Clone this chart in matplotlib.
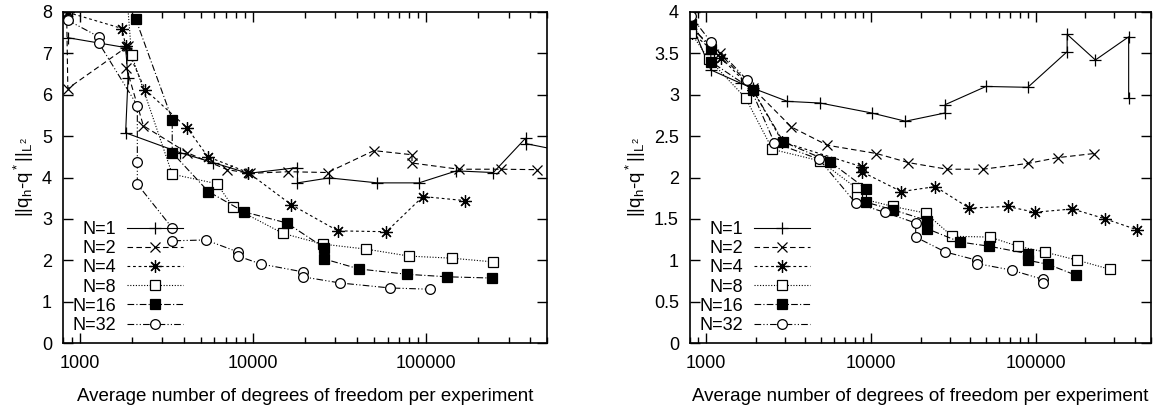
import matplotlib.pyplot as plt
import matplotlib.ticker as ticker

plt.rcParams['font.family'] = ['Liberation Sans', 'DejaVu Sans']
plt.rcParams['mathtext.default'] = 'regular'

labels = ['N=1', 'N=2', 'N=4', 'N=8', 'N=16', 'N=32']

# left panel
l_x1 = [850, 1840, 1900, 1840, 3800, 5900, 9400, 18100, 18100, 27600, 52400, 91000, 150000, 245000, 376000, 376000, 600000]
l_y1 = [7.38, 7.14, 6.4, 5.08, 4.6, 4.36, 4.1, 4.24, 3.87, 3.99, 3.87, 3.87, 4.16, 4.12, 4.95, 4.82, 4.65]
l_x2 = [840, 853, 1890, 1860, 2330, 4170, 7100, 9600, 16000, 27000, 50000, 83000, 83000, 155000, 270000, 435000]
l_y2 = [7.95, 6.15, 7.17, 6.65, 5.25, 4.6, 4.19, 4.1, 4.14, 4.12, 4.65, 4.55, 4.35, 4.2, 4.2, 4.19]
l_x4 = [853, 1760, 1840, 2390, 4170, 5500, 9400, 16700, 31000, 59000, 96000, 169000]
l_y4 = [7.99, 7.6, 7.17, 6.12, 5.2, 4.5, 4.12, 3.34, 2.71, 2.69, 3.54, 3.44]
l_x8 = [1880, 1990, 3420, 6200, 7700, 14900, 25300, 45000, 80000, 141000, 245000]
l_y8 = [8.3, 6.97, 4.08, 3.85, 3.28, 2.65, 2.39, 2.27, 2.1, 2.05, 1.96]
l_x16 = [2100, 3420, 3420, 5530, 8900, 15700, 25900, 25900, 41000, 78000, 133000, 240000]
l_y16 = [7.84, 5.4, 4.6, 3.66, 3.17, 2.9, 2.3, 2.03, 1.79, 1.66, 1.6, 1.57]
l_x32 = [853, 1290, 1290, 2150, 2150, 2150, 3420, 3420, 5350, 8200, 8200, 11100, 19400, 19400, 32000, 62000, 105000]
l_y32 = [7.8, 7.4, 7.25, 5.74, 4.38, 3.84, 2.78, 2.47, 2.49, 2.2, 2.1, 1.91, 1.72, 1.6, 1.45, 1.33, 1.3]

# right panel
r_x1 = [820, 1070, 1620, 1920, 3120, 4930, 10100, 16200, 28200, 28200, 49900, 89500, 155000, 155000, 230000, 366000, 366000]
r_y1 = [3.85, 3.3, 3.14, 3.08, 2.92, 2.9, 2.78, 2.68, 2.78, 2.88, 3.1, 3.09, 3.52, 3.73, 3.42, 3.7, 2.96]
r_x2 = [820, 1210, 1920, 3300, 5440, 10800, 16900, 29000, 47800, 89500, 136000, 226000]
r_y2 = [3.8, 3.5, 3.08, 2.61, 2.39, 2.29, 2.18, 2.1, 2.1, 2.17, 2.24, 2.29]
r_x4 = [820, 1230, 1920, 2910, 8800, 8800, 15300, 24600, 39500, 67600, 98500, 167000, 264000, 409000]
r_y4 = [3.75, 3.45, 3.06, 2.43, 2.13, 2.07, 1.83, 1.89, 1.63, 1.65, 1.58, 1.62, 1.5, 1.37]
r_x8 = [810, 1040, 1740, 2530, 4930, 8200, 8200, 13600, 21500, 31100, 52600, 78000, 113000, 179000, 283000]
r_y8 = [3.75, 3.43, 2.96, 2.34, 2.2, 1.87, 1.76, 1.65, 1.57, 1.29, 1.28, 1.17, 1.1, 1.0, 0.89]
r_x16 = [810, 1070, 1070, 1920, 2950, 5650, 9400, 9400, 13600, 22000, 22000, 34800, 52000, 89500, 89500, 119000, 175000]
r_y16 = [3.85, 3.55, 3.4, 3.06, 2.43, 2.19, 1.86, 1.7, 1.61, 1.48, 1.38, 1.22, 1.17, 1.08, 1.0, 0.95, 0.82]
r_x32 = [810, 1070, 1770, 2600, 4860, 8100, 12100, 18700, 18700, 28300, 44000, 44000, 71700, 110000, 110000]
r_y32 = [3.95, 3.64, 3.18, 2.42, 2.22, 1.69, 1.58, 1.45, 1.28, 1.1, 1.0, 0.96, 0.88, 0.77, 0.72]

styles = [
    dict(ls='-', marker='+', ms=9, mfc='black'),
    dict(ls=(0, (5, 3)), marker='x', ms=7, mfc='black'),
    dict(ls=(0, (2.5, 2.5)), marker=(8, 2, 0), ms=9, mfc='black'),
    dict(ls=(0, (1, 1.5)), marker='s', ms=7, mfc='white'),
    dict(ls=(0, (6, 2, 1, 2)), marker='s', ms=7, mfc='black'),
    dict(ls=(0, (6, 2, 1, 2, 1, 2)), marker='o', ms=7, mfc='white'),
]

fig = plt.figure(figsize=(11.55, 4.07), dpi=100)
ax1 = fig.add_axes([63 / 1155, 64 / 407, 484 / 1155, 331 / 407])
ax2 = fig.add_axes([690 / 1155, 64 / 407, 461 / 1155, 331 / 407])

left = [(l_x1, l_y1), (l_x2, l_y2), (l_x4, l_y4), (l_x8, l_y8), (l_x16, l_y16), (l_x32, l_y32)]
right = [(r_x1, r_y1), (r_x2, r_y2), (r_x4, r_y4), (r_x8, r_y8), (r_x16, r_y16), (r_x32, r_y32)]

for ax, data, ymax, ystep in [(ax1, left, 8, 1), (ax2, right, 4, 0.5)]:
    for (xs, ys), lab, st in zip(data, labels, styles):
        ax.plot(xs, ys, color='black', lw=0.8, mec='black', mew=0.9, label=lab, **st)
    ax.set_xscale('log')
    ax.set_xlim(800, 500000)
    ax.set_ylim(0, ymax)
    ax.yaxis.set_major_locator(ticker.MultipleLocator(ystep))
    ax.yaxis.set_major_formatter(ticker.FuncFormatter(lambda v, p: '%g' % v))
    ax.xaxis.set_major_locator(ticker.LogLocator(base=10))
    ax.xaxis.set_minor_locator(ticker.LogLocator(base=10, subs=range(2, 10)))
    ax.xaxis.set_major_formatter(ticker.FuncFormatter(lambda v, p: '%d' % v))
    ax.xaxis.set_minor_formatter(ticker.NullFormatter())
    ax.tick_params(which='both', direction='in', top=True, right=True, labelsize=13)
    ax.tick_params(axis='x', pad=9)
    ax.tick_params(axis='y', pad=8)
    ax.tick_params(which='major', length=7, width=1)
    ax.tick_params(which='minor', length=4, width=1)
    for s in ax.spines.values():
        s.set_linewidth(1.2)
    ax.set_xlabel('Average number of degrees of freedom per experiment', fontsize=13.5, labelpad=11)
    ax.set_ylabel(r'$||q_h$-$q^*||_{L^2}$', fontsize=13.5, labelpad=4)
    ax.legend(loc='lower left', bbox_to_anchor=(0.0, 0.0), frameon=False, markerfirst=False,
              fontsize=13, handlelength=3.1, handletextpad=0.6, labelspacing=0.12,
              borderaxespad=0.1)

fig.savefig('out.png', dpi=100)
